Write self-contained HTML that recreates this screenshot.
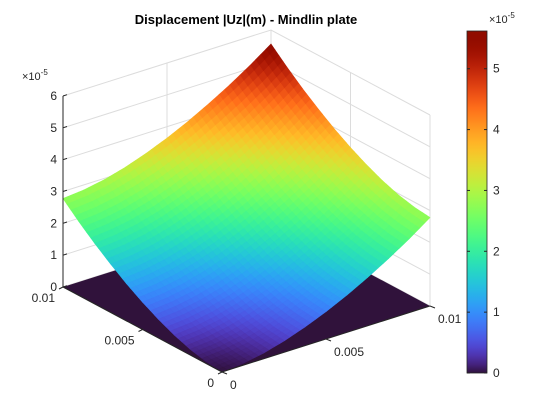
<!DOCTYPE html>
<html><head><meta charset="utf-8"><style>
body{margin:0;background:#fff;}
svg{display:block;font-family:"Liberation Sans",sans-serif;}
</style></head><body>
<svg id="chart" width="560" height="420" viewBox="0 0 560 420" xmlns="http://www.w3.org/2000/svg">
<rect width="560" height="420" fill="#fff"/>
<g id="walls"></g>
<g id="floor"></g>
<g id="surf"></g>
<g id="axes"></g>
<g id="cbar"></g>
<text x="246" y="24" text-anchor="middle" font-size="13" font-weight="bold" fill="#000">Displacement |Uz|(m) - Mindlin plate</text>
</svg>
<script>
const xCoords = [0, 0.001, 0.002, 0.003, 0.004, 0.005, 0.006, 0.007, 0.008, 0.009, 0.01];
const yCoords = [0, 0.001, 0.002, 0.003, 0.004, 0.005, 0.006, 0.007, 0.008, 0.009, 0.01];
// z values in units of 1e-5 m, zGrid[i][j] for x=xCoords[i], y=yCoords[j]
const zGrid = [
  [0.00,0.06,0.18,0.36,0.59,0.86,1.17,1.52,1.90,2.32,2.78],
  [0.06,0.12,0.24,0.42,0.65,0.92,1.23,1.58,1.96,2.38,2.84],
  [0.18,0.24,0.36,0.54,0.77,1.04,1.35,1.70,2.08,2.50,2.96],
  [0.36,0.42,0.54,0.72,0.95,1.22,1.53,1.88,2.26,2.68,3.14],
  [0.59,0.65,0.77,0.95,1.18,1.45,1.76,2.11,2.49,2.91,3.37],
  [0.86,0.92,1.04,1.22,1.45,1.72,2.03,2.38,2.76,3.18,3.64],
  [1.17,1.23,1.35,1.53,1.76,2.03,2.34,2.69,3.07,3.49,3.95],
  [1.52,1.58,1.70,1.88,2.11,2.38,2.69,3.04,3.42,3.84,4.30],
  [1.90,1.96,2.08,2.26,2.49,2.76,3.07,3.42,3.80,4.22,4.68],
  [2.32,2.38,2.50,2.68,2.91,3.18,3.49,3.84,4.22,4.64,5.10],
  [2.78,2.84,2.96,3.14,3.37,3.64,3.95,4.30,4.68,5.10,5.56]
];
const zTicks = [0, 1, 2, 3, 4, 5, 6];
const xyTicks = [0, 0.005, 0.01];
const xyTickLabels = ["0", "0.005", "0.01"];
const cbarTicks = [0, 1, 2, 3, 4, 5];
const cMin = 0, cMax = 5.62;

const NS = "http://www.w3.org/2000/svg";
const F = [222, 372], LC = [63, 287], RC = [430, 306];
const ZS = 191 / 6;
function proj(x, y, z) {
  const u = x / 0.01, v = y / 0.01;
  return [F[0] + u * (RC[0] - F[0]) + v * (LC[0] - F[0]),
          F[1] + u * (RC[1] - F[1]) + v * (LC[1] - F[1]) - z * ZS];
}
function mk(tag, attrs, parent) {
  const e = document.createElementNS(NS, tag);
  for (const k in attrs) e.setAttribute(k, attrs[k]);
  parent.appendChild(e); return e;
}
function turbo(t) {
  t = Math.max(0, Math.min(1, t));
  let r = 0.13572138 + t * (4.61539260 + t * (-42.66032258 + t * (132.13108234 + t * (-152.94239396 + t * 59.28637943))));
  let g = 0.09140261 + t * (2.19418839 + t * (4.84296658 + t * (-14.18503333 + t * (4.27729857 + t * 2.82956604))));
  let b = 0.10667330 + t * (12.64194608 + t * (-60.58204836 + t * (110.36276771 + t * (-89.90310912 + t * 27.34824973))));
  if (t < 0.12) { const w = 1 - t / 0.12; r += w * 0.05; g -= w * 0.02; b += w * 0.13; }
  const c = v => Math.round(255 * Math.max(0, Math.min(1, v)));
  return `rgb(${c(r)},${c(g)},${c(b)})`;
}
const walls = document.getElementById('walls');
const floor = document.getElementById('floor');
const surf = document.getElementById('surf');
const axes = document.getElementById('axes');
const cbar = document.getElementById('cbar');
const grid = '#dcdcdc';
zTicks.forEach(z => {
  const a = proj(0, 0.01, z), b = proj(0.01, 0.01, z), c = proj(0.01, 0, z);
  const p = mk('polyline', {points: `${a} ${b} ${c}`, fill: 'none', stroke: grid, 'stroke-width': 1}, walls);
  
  
});
xyTicks.forEach(t => {
  const zt = zTicks[zTicks.length - 1];
  const a = proj(t, 0.01, 0), b = proj(t, 0.01, zt);
  const l1 = mk('line', {x1: a[0], y1: a[1], x2: b[0], y2: b[1], stroke: grid}, walls);
  
  
  const c = proj(0.01, t, 0), d = proj(0.01, t, zt);
  const l2 = mk('line', {x1: c[0], y1: c[1], x2: d[0], y2: d[1], stroke: grid}, walls);
  
  
});
const fp = mk('polygon', {points: `${proj(0,0,0)} ${proj(0.01,0,0)} ${proj(0.01,0.01,0)} ${proj(0,0.01,0)}`, fill: '#30123b'}, floor);


const N = xCoords.length - 1, S = 4;
function zAt(i, j, fu, fv) {
  const z00 = zGrid[i][j], z10 = zGrid[i+1][j], z01 = zGrid[i][j+1], z11 = zGrid[i+1][j+1];
  return z00*(1-fu)*(1-fv) + z10*fu*(1-fv) + z01*(1-fu)*fv + z11*fu*fv;
}
const quads = [];
for (let i = 0; i < N; i++) for (let j = 0; j < N; j++) for (let a = 0; a < S; a++) for (let b = 0; b < S; b++) {
  const pts = [[a,b],[a+1,b],[a+1,b+1],[a,b+1]].map(([p,q]) => {
    const fu = p/S, fv = q/S;
    const x = xCoords[i] + fu*(xCoords[i+1]-xCoords[i]);
    const y = yCoords[j] + fv*(yCoords[j+1]-yCoords[j]);
    return [x, y, zAt(i, j, fu, fv)];
  });
  const zc = pts.reduce((s,p)=>s+p[2],0)/4;
  const depth = pts.reduce((s,p)=>s+p[0]+p[1],0);
  quads.push({pts, zc, depth});
}
quads.sort((A,B) => B.depth - A.depth);
quads.forEach(q => {
  const col = turbo((q.zc - cMin)/(cMax - cMin));
  const pg = mk('polygon', {points: q.pts.map(p => proj(p[0],p[1],p[2]).map(v=>v.toFixed(2)).join(',')).join(' '), fill: col, stroke: col, 'stroke-width': 0.6}, surf);
  
  
});
const zb = proj(0, 0.01, 0), zt2 = proj(0, 0.01, 6);
mk('line', {x1: zb[0], y1: zb[1], x2: zt2[0], y2: zt2[1], stroke: '#262626'}, axes);
zTicks.forEach(z => {
  const p = proj(0, 0.01, z);
  mk('line', {x1: p[0], y1: p[1], x2: p[0]+4, y2: p[1]-1.3, stroke: '#262626'}, axes);
  const t = mk('text', {x: p[0]-6, y: p[1]+4, 'text-anchor': 'end', 'font-size': 12, fill: '#262626'}, axes);
  t.textContent = z;
  
  
});
const zx = mk('text', {x: 22, y: 80, 'font-size': 11, fill: '#262626'}, axes);
zx.innerHTML = '×10<tspan dy="-5" font-size="8">-5</tspan>';


const ya = proj(0,0,0), yb = proj(0,0.01,0), xb = proj(0.01,0,0);
mk('line', {x1: ya[0], y1: ya[1], x2: yb[0], y2: yb[1], stroke: '#262626'}, axes);
mk('line', {x1: ya[0], y1: ya[1], x2: xb[0], y2: xb[1], stroke: '#262626'}, axes);
xyTicks.forEach((t, k) => {
  const p = proj(0, t, 0);
  mk('line', {x1: p[0], y1: p[1], x2: p[0]-4, y2: p[1]+2, stroke: '#262626'}, axes);
  const tx = mk('text', {x: p[0]-8, y: p[1]+15, 'text-anchor': 'end', 'font-size': 12, fill: '#262626'}, axes);
  tx.textContent = xyTickLabels[k];
  
  
  const q = proj(t, 0, 0);
  mk('line', {x1: q[0], y1: q[1], x2: q[0]+5, y2: q[1]+2, stroke: '#262626'}, axes);
  const ty = mk('text', {x: q[0]+8, y: q[1]+17, 'text-anchor': 'start', 'font-size': 12, fill: '#262626'}, axes);
  ty.textContent = xyTickLabels[k];
  
  
});
const CB = {x: 467, w: 20, top: 31, bot: 373};
const cy = v => CB.bot - (v - cMin)/(cMax - cMin)*(CB.bot - CB.top);
const defs = mk('defs', {}, cbar);
const lg = mk('linearGradient', {id: 'cg', x1: 0, y1: 1, x2: 0, y2: 0}, defs);
for (let k = 0; k <= 40; k++) mk('stop', {offset: k/40, 'stop-color': turbo(k/40)}, lg);
const cr = mk('rect', {x: CB.x, y: CB.top, width: CB.w, height: CB.bot - CB.top, fill: 'url(#cg)', stroke: '#262626', 'stroke-width': 0.8}, cbar);


cbarTicks.forEach(v => {
  const y = cy(v);
  mk('line', {x1: CB.x+CB.w-3, y1: y, x2: CB.x+CB.w, y2: y, stroke: '#262626'}, cbar);
  mk('line', {x1: CB.x, y1: y, x2: CB.x+3, y2: y, stroke: '#262626'}, cbar);
  const t = mk('text', {x: CB.x+CB.w+6, y: y+4, 'font-size': 12, fill: '#262626'}, cbar);
  t.textContent = v;
  
  
});
const ce = mk('text', {x: 489, y: 23, 'font-size': 11, fill: '#262626'}, cbar);
ce.innerHTML = '×10<tspan dy="-5" font-size="8">-5</tspan>';


</script>
</body></html>
